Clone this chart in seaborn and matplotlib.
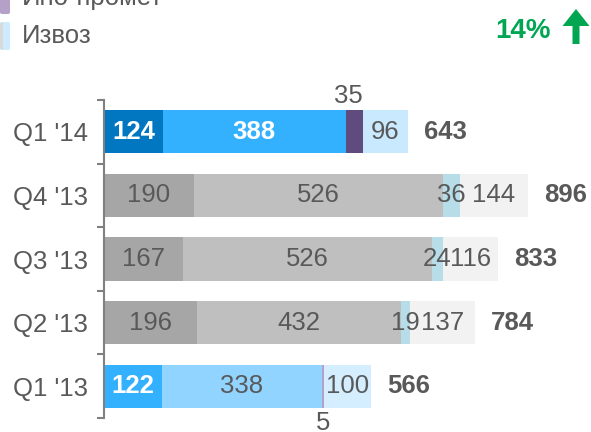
import matplotlib
matplotlib.use("Agg")
import matplotlib.pyplot as plt
import matplotlib.patches as mpatches
import numpy as np
import pandas as pd
import seaborn as sns

# data
quarters = ["Q1 '14", "Q4 '13", "Q3 '13", "Q2 '13", "Q1 '13"]
seg1 = [124, 190, 167, 196, 122]
seg2 = [388, 526, 526, 432, 338]
seg3 = [35, 36, 24, 19, 5]
seg4 = [96, 144, 116, 137, 100]
totals = [643, 896, 833, 784, 566]
growth = "14%"
legend_labels = ["Ино-промет", "Извоз"]

# colours per row (segment 1..4)
row_colors = {
    "Q1 '14": ["#0077C0", "#33B1FF", "#5F4B7E", "#C9E9FF"],
    "Q4 '13": ["#A6A6A6", "#BFBFBF", "#B7DEE8", "#F2F2F2"],
    "Q3 '13": ["#A6A6A6", "#BFBFBF", "#B7DEE8", "#F2F2F2"],
    "Q2 '13": ["#A6A6A6", "#BFBFBF", "#B7DEE8", "#F2F2F2"],
    "Q1 '13": ["#33B1FF", "#91D4FF", "#B5A0C8", "#D5EEFF"],
}
white_labels = {("Q1 '14", 0), ("Q1 '14", 1), ("Q1 '13", 0)}

sns.set_style("white")
plt.rcParams['font.family'] = ['Liberation Sans', 'DejaVu Sans']
gray = "#595959"
fs = 18.5

fig = plt.figure(figsize=(5.91, 4.32), dpi=100)
ax = fig.add_axes([104 / 591, 14 / 432, 473 / 591, 318 / 432])

segs = np.array([seg1, seg2, seg3, seg4])
cums = segs.cumsum(axis=0)

# stacked bars: draw the cumulative ends from the right-most segment backwards
for k in reversed(range(4)):
    df = pd.DataFrame({"quarter": quarters, "end": cums[k]})
    pal = {q: row_colors[q][k] for q in quarters}
    sns.barplot(data=df, x="end", y="quarter", hue="quarter", palette=pal,
                orient="h", dodge=False, width=0.68, saturation=1,
                legend=False, linewidth=0, ax=ax)

# segment labels
for i, q in enumerate(quarters):
    for k in range(4):
        val = segs[k, i]
        center = cums[k, i] - val / 2
        white = (q, k) in white_labels
        color = "white" if white else gray
        weight = "bold" if white else "normal"
        if k == 2 and val < 15:
            # tiny segment: label below the bar
            ax.annotate(str(val), (center, i), xytext=(0, -37),
                        textcoords="offset pixels", ha="center", va="center",
                        fontsize=fs, color=gray)
        elif k == 2 and q == "Q1 '14":
            ax.annotate(str(val), (center, i), xytext=(-6, 36),
                        textcoords="offset pixels", ha="center", va="center",
                        fontsize=fs, color=gray)
        else:
            ax.text(center, i, str(val), ha="center", va="center",
                    fontsize=fs, color=color, fontweight=weight)
    ax.annotate(str(totals[i]), (cums[3, i], i), xytext=(16, 0),
                textcoords="offset pixels", ha="left", va="center",
                fontsize=fs, color=gray, fontweight="bold")

ax.set_xlim(0, 1000)
ax.set_ylim(4.5, -0.5)
ax.set_xlabel("")
ax.set_ylabel("")
ax.xaxis.set_visible(False)
for s in ["top", "right", "bottom"]:
    ax.spines[s].set_visible(False)
ax.spines["left"].set_color("#808080")
ax.spines["left"].set_linewidth(1.5)
ax.set_yticks(range(len(quarters)))
ax.set_yticklabels(quarters)
ax.set_yticks(np.arange(-0.5, len(quarters)), minor=True)
ax.tick_params(axis="y", which="major", length=0, pad=11.5, labelsize=fs,
               labelcolor=gray)
ax.tick_params(axis="y", which="minor", length=5, width=1.5, color="#808080",
               left=True)

# legend (partly cut off at the top, as in the reference)
H = 432
def fig_rect(x0, y_top, w, h, color):
    p = mpatches.FancyBboxPatch((x0 / 591, (H - y_top - h) / H), w / 591, h / H,
                                boxstyle="round,pad=0,rounding_size=0.004",
                                transform=fig.transFigure, color=color,
                                linewidth=0)
    fig.add_artist(p)

fig_rect(0, -16, 10, 30, "#B5A0C8")
fig_rect(0, 22, 10, 28, "#CCEBFF")
fig_rect(0, 22, 3, 28, "#D9D9D9")
fig.text(22 / 591, (H + 2) / H, legend_labels[0], fontsize=fs, color=gray,
         ha="left", va="center")
fig.text(22 / 591, (H - 36) / H, legend_labels[1], fontsize=fs, color=gray,
         ha="left", va="center")

# growth indicator
fig.text(551 / 591, (H - 31) / H, growth, fontsize=20, color="#00A651",
         fontweight="bold", ha="right", va="center")
arrow = mpatches.FancyArrow(576 / 591, (H - 44) / H, 0, 35 / H,
                            width=7 / 591, head_width=27 / 591,
                            head_length=17 / H, length_includes_head=True,
                            transform=fig.transFigure, color="#00A651",
                            linewidth=0)
fig.add_artist(arrow)

fig.savefig("out.png", dpi=100)
